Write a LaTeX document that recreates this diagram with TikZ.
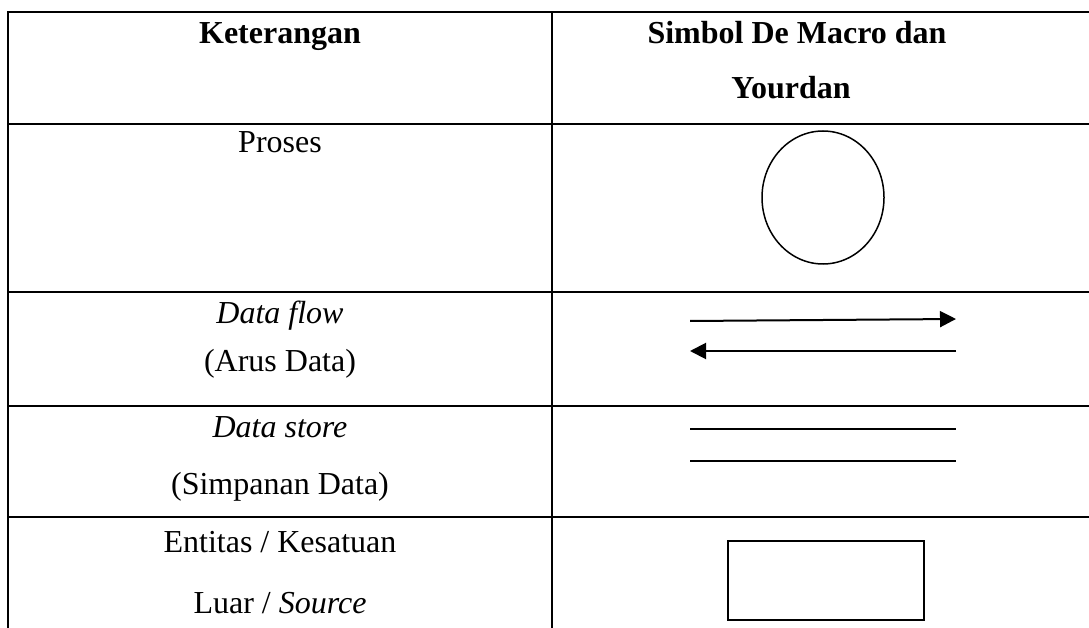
\documentclass[tikz,border=0pt]{standalone}
\usepackage{fontspec}
\setmainfont{Liberation Serif}
\usetikzlibrary{arrows.meta,shapes.geometric}

\tikzset{
  grid/.style={line width=2pt, line cap=rect},
  cell/.style={anchor=base, inner sep=0pt, font=\fontsize{32}{38}\selectfont},
  headcell/.style={cell, font=\fontsize{32}{38}\selectfont\bfseries},
  symline/.style={line width=2pt},
  flow/.style={symline, -{Triangle[length=16pt,width=16pt]}},
}

\begin{document}
\begin{tikzpicture}[x=1pt,y=-1pt]
  \useasboundingbox (0,0) rectangle (1089,628);

  % table rules
  \draw[grid] (8,628) -- (8,12) -- (1089,12);
  \draw[grid] (552,12) -- (552,628);
  \foreach \yy in {124,292,406,517}
    \draw[grid] (8,\yy) -- (1089,\yy);

  % header row
  \node[headcell] (hket) at (280,44) {Keterangan};
  \node[headcell] (hsym1) at (797,44) {Simbol De Macro dan};
  \node[headcell] (hsym2) at (791,99) {Yourdan};

  % Proses
  \node[cell] (tproc) at (280,153) {Proses};
  \node[draw, ellipse, line width=1.5pt, minimum width=122pt, minimum height=133pt, inner sep=0pt]
    (proc) at (823,197.5) {};

  % Data flow
  \node[cell] (tflow1) at (280,323) {\itshape Data flow};
  \node[cell] (tflow2) at (280,371) {(Arus Data)};
  \coordinate (f1a) at (690,321);
  \coordinate (f1b) at (956,319);
  \coordinate (f2a) at (956,351);
  \coordinate (f2b) at (690,351);
  \draw[flow] (f1a) -- (f1b);
  \draw[flow] (f2a) -- (f2b);

  % Data store
  \node[cell] (tstore1) at (280,437) {\itshape Data store};
  \node[cell] (tstore2) at (280,494) {(Simpanan Data)};
  \coordinate (s1a) at (690,429);
  \coordinate (s1b) at (956,429);
  \coordinate (s2a) at (690,461);
  \coordinate (s2b) at (956,461);
  \draw[symline] (s1a) -- (s1b);
  \draw[symline] (s2a) -- (s2b);

  % Entitas
  \node[cell] (tent1) at (280,552) {Entitas / Kesatuan};
  \node[cell] (tent2) at (280,613) {Luar / \itshape Source};
  \node[draw, rectangle, line width=2pt, minimum width=196pt, minimum height=79pt, inner sep=0pt]
    (ent) at (826,580.5) {};
\end{tikzpicture}
\end{document}
